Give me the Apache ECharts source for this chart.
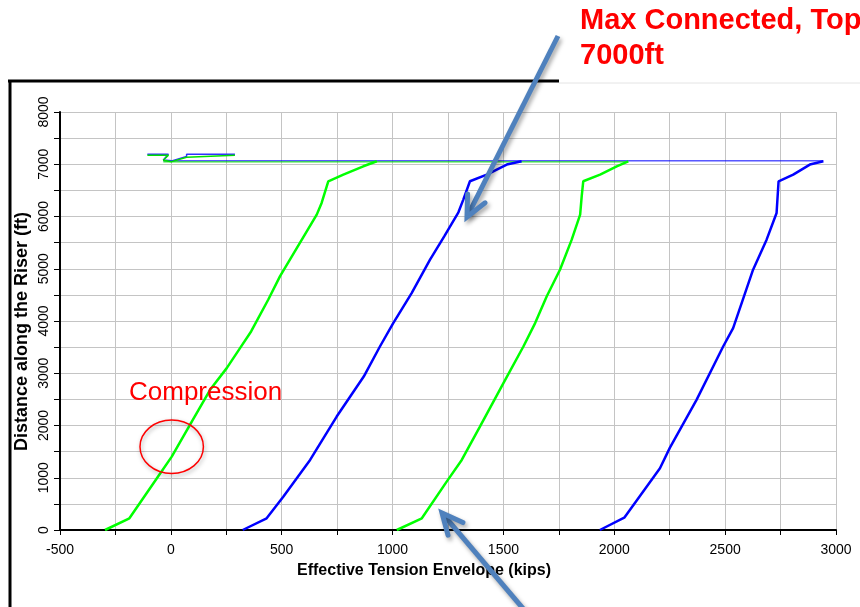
<!DOCTYPE html>
<html><head><meta charset="utf-8">
<script src="https://cdn.jsdelivr.net/npm/echarts@6/dist/echarts.min.js"></script>
<style>html,body{margin:0;padding:0;background:#fff}#c{width:860px;height:607px}</style>
</head><body><div id="c"></div>
<script>
// ---- data (Effective tension [kips], distance along riser [ft]) ----
const greenLow = [[-297,0],[-187,224],[-63,990],[4,1405],[86,2012],[177,2683],[252,3098],[312,3481],[362,3800],[439,4407],[492,4854],[658,6036],[680,6260],[710,6674],[778,6802],[868,6961],[929,7057]];
const blueLow = [[324,0],[432,224],[507,638],[628,1341],[748,2171],[870,2937],[943,3512],[1003,3960],[1086,4535],[1169,5173],[1233,5620],[1297,6080],[1319,6323],[1349,6674],[1425,6802],[1515,6994],[1582,7057]];
const greenHigh = [[1019,0],[1132,224],[1244,926],[1312,1341],[1394,1979],[1500,2811],[1590,3512],[1643,3960],[1695,4470],[1755,4982],[1808,5557],[1846,6036],[1853,6386],[1860,6674],[1936,6802],[2011,6961],[2063,7057]];
const blueHigh = [[1935,0],[2045,236],[2206,1182],[2251,1577],[2371,2491],[2491,3512],[2536,3865],[2626,4982],[2687,5557],[2732,6068],[2741,6674],[2807,6802],[2882,6994],[2943,7057]];
const blueTop = [[2943,7065],[-34,7065]];
const greenTop = [[2063,7045],[-34,7045]];
const blueHook = [[-106,7190],[-11,7190],[-34,7080],[4,7065],[71,7150],[71,7190],[289,7190]];
const greenHook = [[-106,7172],[-11,7172],[-34,7076],[4,7050],[71,7134],[71,7172],[289,7172]];
const xTickLabels = ['-500','0','500','1000','1500','2000','2500','3000'];
const yTickLabels = ['0','1000','2000','3000','4000','5000','6000','7000','8000'];
const titleLines = ['Max Connected, Top', '7000ft'];
const noteText = 'Compression';

const FONT = 'Liberation Sans, Arial, sans-serif';
const chart = echarts.init(document.getElementById('c'), null, {renderer:'canvas'});

function lineSeries(data, color, width) {
  return {type:'line', data:data, showSymbol:false, symbol:'none', silent:true,
    lineStyle:{color:color, width:width}, itemStyle:{color:color}};
}

function arrow(tip, tail) {
  const a = Math.atan2(tail[1]-tip[1], tail[0]-tip[0]);
  const L = 23, d = 0.44;
  const w1 = [tip[0]+L*Math.cos(a+d), tip[1]+L*Math.sin(a+d)];
  const w2 = [tip[0]+L*Math.cos(a-d), tip[1]+L*Math.sin(a-d)];
  const st = {stroke:'#4F81BD', lineWidth:5, fill:null,
    shadowBlur:4, shadowColor:'rgba(0,0,0,0.35)', shadowOffsetX:2, shadowOffsetY:3};
  const s = [tip[0]+2*Math.cos(a), tip[1]+2*Math.sin(a)];
  return [
    {type:'polyline', z:100, shape:{points:[tail, s]}, style:Object.assign({lineCap:'butt'}, st)},
    {type:'polyline', z:100, shape:{points:[w1, tip, w2]}, style:Object.assign({lineJoin:'miter', lineCap:'round'}, st)}
  ];
}

const option = {
  animation:false,
  backgroundColor:'#ffffff',
  grid:{left:60, right:24, top:112, bottom:77, containLabel:false},
  xAxis:{type:'value', min:-500, max:3000, interval:250,
    name:'Effective Tension Envelope (kips)', nameLocation:'middle', nameGap:33, nameMoveOverlap:false,
    nameTextStyle:{fontFamily:FONT, fontSize:16, fontWeight:'bold', color:'#000', padding:[0,48,0,0]},
    axisLine:{show:true, onZero:false, lineStyle:{color:'#000', width:2}},
    axisTick:{show:true, inside:false, length:5, lineStyle:{color:'#000', width:1}},
    axisLabel:{fontFamily:FONT, fontSize:14, color:'#000', margin:13,
      formatter:v => { const s = String(v); return xTickLabels.indexOf(s) >= 0 ? s : ''; }},
    splitLine:{show:true, lineStyle:{color:'#C4C4C4', width:1}}},
  yAxis:{type:'value', min:0, max:8000, interval:500,
    name:'Distance along the Riser (ft)', nameLocation:'middle', nameGap:29, nameRotate:90, nameMoveOverlap:false,
    nameTextStyle:{fontFamily:FONT, fontSize:18, fontWeight:'bold', color:'#000', padding:[0,21,0,0]},
    axisLine:{show:true, onZero:false, lineStyle:{color:'#000', width:2}},
    axisTick:{show:true, inside:false, length:6, lineStyle:{color:'#000', width:1}},
    axisLabel:{fontFamily:FONT, fontSize:14, color:'#000', margin:9, rotate:90,
      formatter:v => { const s = String(v); return yTickLabels.indexOf(s) >= 0 ? s : ''; }},
    splitLine:{show:true, lineStyle:{color:'#C4C4C4', width:1}}},
  series:[
    lineSeries(blueTop, '#0000FF', 1),
    lineSeries(greenTop, '#00E000', 1),
    lineSeries(blueHook, '#3030FF', 1.5),
    lineSeries(greenHook, '#00E000', 1.5),
    lineSeries(blueLow, '#0000FF', 2.5),
    lineSeries(blueHigh, '#0000FF', 2.5),
    lineSeries(greenLow, '#00FF00', 2.5),
    lineSeries(greenHigh, '#00FF00', 2.5)
  ],
  graphic:[
    {type:'line', z:50, shape:{x1:8, y1:81, x2:559, y2:81}, style:{stroke:'#000', lineWidth:3}},
    {type:'line', z:50, shape:{x1:10, y1:80, x2:10, y2:607}, style:{stroke:'#000', lineWidth:3}},
    {type:'line', z:50, shape:{x1:559, y1:83, x2:860, y2:83}, style:{stroke:'#E4E4E4', lineWidth:1}},
    {type:'text', z:60, x:580, y:21, style:{text:titleLines[0], fontFamily:FONT, fontSize:29, fontWeight:'bold', fill:'#FF0000', align:'left', verticalAlign:'middle'}},
    {type:'text', z:60, x:580, y:56, style:{text:titleLines[1], fontFamily:FONT, fontSize:29, fontWeight:'bold', fill:'#FF0000', align:'left', verticalAlign:'middle'}},
    {type:'text', z:60, x:129, y:393, style:{text:noteText, fontFamily:FONT, fontSize:26, fill:'#FF0000', align:'left', verticalAlign:'middle'}},
    {type:'ellipse', z:60, shape:{cx:171.7, cy:446.7, rx:31.7, ry:26.7},
      style:{fill:null, stroke:'#FF0000', lineWidth:1.5, shadowBlur:4, shadowColor:'rgba(0,0,0,0.35)', shadowOffsetX:1, shadowOffsetY:2}}
  ].concat(arrow([467,217],[558,36])).concat(arrow([442,513],[526,612]))
};
chart.setOption(option);
</script></body></html>
